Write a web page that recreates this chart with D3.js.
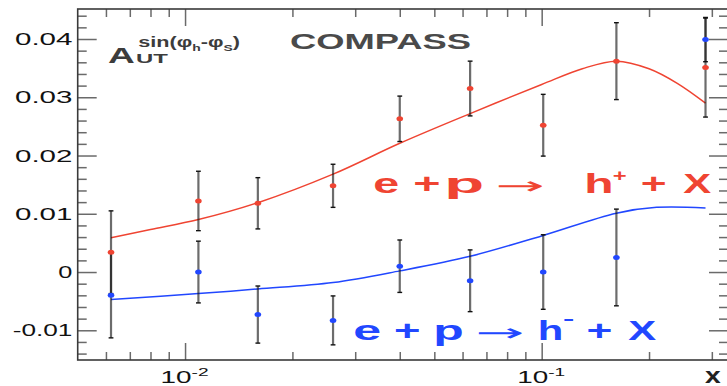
<!DOCTYPE html>
<html><head><meta charset="utf-8">
<script src="https://cdn.jsdelivr.net/npm/d3@7"></script>
<style>body{margin:0;background:#fff} svg{display:block}</style>
</head><body>
<svg id="c" width="727" height="386"></svg>
<script>
// ---- data ----
const xBins     = [0.0062, 0.0109, 0.016, 0.026, 0.040, 0.063, 0.101, 0.162, 0.288];
const redVals   = [0.0034, 0.0122, 0.0118, 0.0148, 0.0263, 0.0315, 0.0252, 0.0362, 0.0351];
const redErrs   = [0.0071, 0.0051, 0.0044, 0.0037, 0.0039, 0.0047, 0.0053, 0.0066, 0.0085];
const blueVals  = [-0.0040, 0.0000, -0.0073, -0.0083, 0.0010, -0.0015, 0.0000, 0.0025, 0.0399];
const blueErrs  = [0.0073, 0.0053, 0.0049, 0.0042, 0.0045, 0.0053, 0.0064, 0.0083, 0.0038];
const redCurveX = [0.0062, 0.008, 0.0109, 0.016, 0.026, 0.040, 0.063, 0.1, 0.13, 0.162, 0.2, 0.24, 0.288];
const redCurveY = [0.0059, 0.0073, 0.0090, 0.0119, 0.0168, 0.0221, 0.0272, 0.0322, 0.0349, 0.0362, 0.0349, 0.0324, 0.0290];
const blueCurveX = [0.0062, 0.0109, 0.016, 0.026, 0.040, 0.063, 0.1, 0.162, 0.21, 0.288];
const blueCurveY = [-0.0047, -0.0037, -0.0029, -0.0018, 0.0002, 0.0027, 0.0062, 0.0101, 0.0111, 0.0110];
const yTicks = [-0.01, 0, 0.01, 0.02, 0.03, 0.04];
const yTickLabels = ["-0.01", "0", "0.01", "0.02", "0.03", "0.04"];
const yMinorTicks = d3.range(-14, 45, 2).map(v => v / 1000);
const xMajorTicks = [0.01, 0.1];
const xTickBase = ["10", "10"];
const xTickExp = ["-2", "-1"];
const xMinorTicks = [0.006, 0.007, 0.008, 0.009, 0.02, 0.03, 0.04, 0.05, 0.06, 0.07, 0.08, 0.09, 0.2, 0.3];

// ---- layout ----
const L = 77.7, R = 728, T = 9, B = 360;
const svg = d3.select('#c');
const x = d3.scaleLog().domain([0.005, 0.333]).range([L, R]);
const y = d3.scaleLinear().domain([-0.0151, 0.04515]).range([B, T]);

const RED = '#ef4432', BLUE = '#2147ff';
const SANS = "'Liberation Sans', Arial, Helvetica, sans-serif";

// ---- axes (ticks inward) ----
function styleAxis(g) {
  g.select('.domain').remove();
  g.selectAll('.tick line').attr('stroke', '#6a6a6a').attr('stroke-width', 1.5);
  g.selectAll('.tick text').remove();
}
const yMinorOnly = yMinorTicks.filter(v => !yTicks.some(t => Math.abs(t - v) < 1e-9));
svg.append('g').attr('transform', `translate(${L},0)`)
  .call(d3.axisLeft(y).tickValues(yTicks).tickSizeInner(-19).tickSizeOuter(0)).call(styleAxis);
svg.append('g').attr('transform', `translate(${L},0)`)
  .call(d3.axisLeft(y).tickValues(yMinorOnly).tickSizeInner(-9).tickSizeOuter(0)).call(styleAxis);
svg.append('g').attr('transform', `translate(${R},0)`)
  .call(d3.axisRight(y).tickValues(yTicks).tickSizeInner(-19).tickSizeOuter(0)).call(styleAxis);
svg.append('g').attr('transform', `translate(${R},0)`)
  .call(d3.axisRight(y).tickValues(yMinorOnly).tickSizeInner(-9).tickSizeOuter(0)).call(styleAxis);
svg.append('g').attr('transform', `translate(0,${B})`)
  .call(d3.axisBottom(x).tickValues(xMajorTicks).tickSizeInner(-17).tickSizeOuter(0)).call(styleAxis);
svg.append('g').attr('transform', `translate(0,${B})`)
  .call(d3.axisBottom(x).tickValues(xMinorTicks).tickSizeInner(-8).tickSizeOuter(0)).call(styleAxis);
svg.append('g').attr('transform', `translate(0,${T})`)
  .call(d3.axisTop(x).tickValues(xMajorTicks).tickSizeInner(-17).tickSizeOuter(0)).call(styleAxis);
svg.append('g').attr('transform', `translate(0,${T})`)
  .call(d3.axisTop(x).tickValues(xMinorTicks).tickSizeInner(-8).tickSizeOuter(0)).call(styleAxis);

svg.append('rect').attr('x', L).attr('y', T).attr('width', R - L).attr('height', B - T)
  .attr('fill', 'none').attr('stroke', '#3a3a3a').attr('stroke-width', 1.6);

// ---- text helpers ----
const ctx = document.createElement('canvas').getContext('2d');
// plain string: stretch so its ink spans [x0, x1]
function inkText(str, family, weight, size, fill, x0, x1, yb) {
  ctx.font = `${weight} ${size}px ${family}`;
  const m = ctx.measureText(str);
  const l = m.actualBoundingBoxLeft, r = m.actualBoundingBoxRight;
  const s = (x1 - x0) / Math.max(1, l + r);
  const g = svg.append('g').attr('transform', `translate(${x0 + l * s},${yb}) scale(${s},1)`);
  return g.append('text').attr('x', 0).attr('y', 0).text(str)
    .attr('font-family', family).attr('font-weight', weight).attr('font-size', size).attr('fill', fill);
}
// compound text: stretch bbox to [x0, x1]
function fitText(build, x0, x1, yb) {
  const g = svg.append('g');
  const t = g.append('text').attr('x', 0).attr('y', 0);
  build(t);
  const w = t.node().getBBox().width || 1;
  g.attr('transform', `translate(${x0},${yb}) scale(${(x1 - x0) / w},1)`);
  return t;
}

// y tick labels (ink right edge at 71.7)
yTicks.forEach((v, i) => {
  const lab = yTickLabels[i];
  const x0 = lab === '0' ? 58.3 : (lab.startsWith('-') ? 12.7 : 15);
  inkText(lab, SANS, 'normal', 17, '#111', x0, 71.7, y(v) + 6.2);
});
// x tick labels
xMajorTicks.forEach((v, i) => {
  const cx = x(v);
  fitText(t => {
    t.attr('font-family', SANS).attr('font-size', 16).attr('fill', '#111');
    t.append('tspan').text(xTickBase[i]);
    t.append('tspan').attr('font-size', 11).attr('dy', -7.6).text(xTickExp[i]);
  }, cx - 24.5, cx + 23.5, 383.3);
});
inkText('x', SANS, 'bold', 22, '#222', 705, 721.7, 382.7);

// ---- curves ----
const line = d3.line().x(d => x(d[0])).y(d => y(d[1])).curve(d3.curveCatmullRom.alpha(0.5));
svg.append('path').datum(redCurveX.map((v, i) => [v, redCurveY[i]]))
  .attr('d', line).attr('fill', 'none').attr('stroke', RED).attr('stroke-width', 1.5);
svg.append('path').datum(blueCurveX.map((v, i) => [v, blueCurveY[i]]))
  .attr('d', line).attr('fill', 'none').attr('stroke', BLUE).attr('stroke-width', 1.5);

// ---- error bars and points ----
function series(vals, errs) {
  const g = svg.append('g');
  const data = xBins.map((v, i) => ({ x: v, y: vals[i], e: errs[i] }));
  g.selectAll('line.bar').data(data).join('line')
    .attr('x1', d => x(d.x)).attr('x2', d => x(d.x))
    .attr('y1', d => y(d.y + d.e)).attr('y2', d => y(d.y - d.e))
    .attr('stroke', '#111').attr('stroke-opacity', 0.62).attr('stroke-width', 2.2);
  ['top', 'bot'].forEach(k => {
    g.selectAll('line.cap' + k).data(data).join('line')
      .attr('x1', d => x(d.x) - 2.4).attr('x2', d => x(d.x) + 2.4)
      .attr('y1', d => y(k === 'top' ? d.y + d.e : d.y - d.e))
      .attr('y2', d => y(k === 'top' ? d.y + d.e : d.y - d.e))
      .attr('stroke', '#111').attr('stroke-width', 1.4);
  });
  return data;
}
const rd = series(redVals, redErrs);
const bd = series(blueVals, blueErrs);
svg.append('g').selectAll('ellipse').data(rd).join('ellipse')
  .attr('cx', d => x(d.x)).attr('cy', d => y(d.y)).attr('rx', 3.3).attr('ry', 2.5).attr('fill', RED);
svg.append('g').selectAll('ellipse').data(bd).join('ellipse')
  .attr('cx', d => x(d.x)).attr('cy', d => y(d.y)).attr('rx', 3.3).attr('ry', 2.5).attr('fill', BLUE);

// ---- titles ----
inkText('COMPASS', SANS, 'bold', 22, '#4a4a4a', 290, 470, 49);
inkText('A', SANS, 'bold', 22, '#3c3c3c', 108, 135, 63);
inkText('UT', SANS, 'bold', 13, '#3c3c3c', 136, 168, 63.3);
fitText(t => {
  t.attr('font-family', SANS).attr('font-weight', 'bold').attr('font-size', 14).attr('fill', '#3c3c3c');
  t.append('tspan').text('sin(\u03c6');
  t.append('tspan').attr('font-size', 9).attr('dy', 4).text('h');
  t.append('tspan').attr('dy', -4).text('-\u03c6');
  t.append('tspan').attr('font-size', 9).attr('dy', 4).text('S');
  t.append('tspan').attr('dy', -4).text(')');
}, 138.3, 240, 46.7);

// ---- reaction labels ----
function reaction(color, yb, pos) {
  const B_ = (s, r) => inkText(s, SANS, 'bold', 28, color, r[0], r[1], yb);
  B_('e', pos.e); B_('+', pos.p1); B_('p', pos.p);
  inkText('\u2192', "'DejaVu Sans', sans-serif", 'normal', 24, color, pos.arr[0], pos.arr[1], yb + pos.arrDy);
  B_('h', pos.h);
  inkText(pos.sup, SANS, 'bold', 17, color, pos.s[0], pos.s[1], pos.sy);
  B_('+', pos.p2); B_('X', pos.X);
}
reaction(RED, 193, {
  e: [375, 398.3], p1: [415, 440], p: [446.7, 481.7], arr: [498, 542], arrDy: 1,
  h: [586, 611.7], sup: '+', s: [612.7, 626.7], sy: 181, p2: [642.3, 666], X: [683.3, 711.7]
});
reaction(BLUE, 340, {
  e: [355, 380], p1: [395.7, 420], p: [435, 461.7], arr: [478, 521.7], arrDy: 1,
  h: [539.3, 561.7], sup: '-', s: [563, 573], sy: 324, p2: [588, 611.7], X: [628.3, 656.7]
});
</script>
</body></html>
